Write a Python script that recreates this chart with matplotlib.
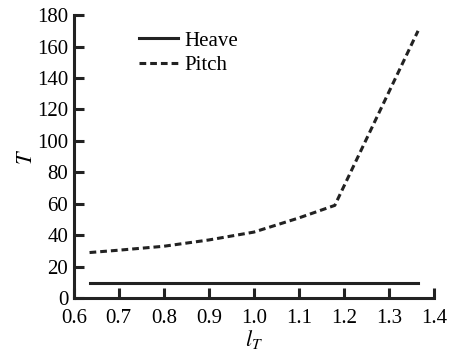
import numpy as np
import matplotlib.pyplot as plt

plt.rcParams['font.family'] = ['Liberation Serif', 'DejaVu Serif']
plt.rcParams['mathtext.fontset'] = 'stix'

# data
l_t = [0.635, 0.7, 0.8, 0.9, 1.0, 1.1, 1.18, 1.365]
pitch = [29, 30.5, 33, 37, 42, 51, 59, 170]
heave = [9.5, 9.5, 9.5, 9.5, 9.5, 9.5, 9.5, 9.5]

fig = plt.figure(figsize=(4.5, 3.52), dpi=100)
ax = fig.add_axes([0.164, 0.153, 0.800, 0.804])

ax.plot(l_t, heave, color="#222222", linewidth=2.2, label="Heave")
ax.plot(l_t, pitch, color="#222222", linewidth=2.2, linestyle=(0, (2.2, 1.3)), label="Pitch")

ax.set_xlim(0.6, 1.4)
ax.set_ylim(0, 180)
ax.set_xticks(np.arange(0.6, 1.41, 0.1))
ax.set_xticklabels(["0.6", "0.7", "0.8", "0.9", "1.0", "1.1", "1.2", "1.3", "1.4"])
ax.set_yticks(range(0, 181, 20))

for s in ["top", "right"]:
    ax.spines[s].set_visible(False)
for s in ["left", "bottom"]:
    ax.spines[s].set_linewidth(2.2)
    ax.spines[s].set_color("#222222")

ax.tick_params(direction="in", length=7, width=2.2, color="#222222", labelsize=15)
ax.tick_params(axis="x", pad=8)
ax.tick_params(axis="y", pad=4)

ax.set_xlabel(r"$l_T$", fontsize=16, labelpad=0)
ax.set_ylabel(r"$T$", fontsize=16, labelpad=0)

ax.legend(loc="upper left", bbox_to_anchor=(0.13, 1.01), frameon=False, fontsize=15,
          handlelength=1.85, handletextpad=0.3, labelspacing=0.25)

fig.savefig("out.png")
